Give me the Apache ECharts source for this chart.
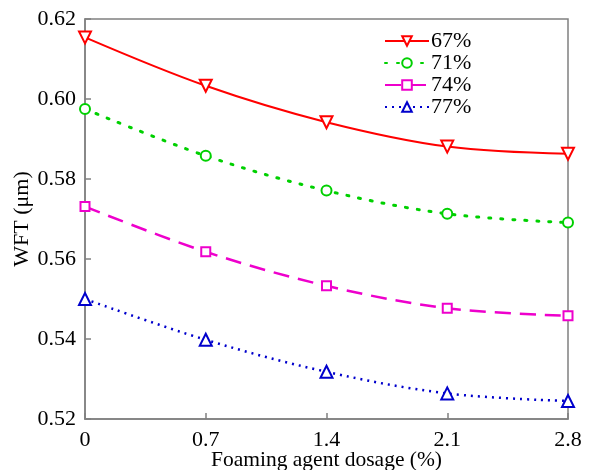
<!DOCTYPE html>
<html>
<head>
<meta charset="utf-8">
<script src="https://cdn.jsdelivr.net/npm/echarts@6/dist/echarts.min.js"></script>
<style>html,body{margin:0;padding:0;background:#fff;}#c{width:595px;height:470px;}</style>
</head>
<body>
<div id="c"></div>
<script>
const dosage = [0, 0.7, 1.4, 2.1, 2.8];
const seriesNames = ['67%', '71%', '74%', '77%'];
const wft67 = [0.6154, 0.6033, 0.5942, 0.5881, 0.5863];
const wft71 = [0.5975, 0.5858, 0.5771, 0.5713, 0.5691];
const wft74 = [0.5731, 0.5618, 0.5533, 0.5477, 0.5458];
const wft77 = [0.5500, 0.5398, 0.5318, 0.5264, 0.5245];
const xTitle = 'Foaming agent dosage (%)';
const yTitle = 'WFT (μm)';

const font = '"Liberation Serif", "Times New Roman", serif';
const pair = arr => dosage.map((x, i) => [x, arr[i]]);

const chart = echarts.init(document.getElementById('c'));
chart.setOption({
  animation: false,
  backgroundColor: '#fff',
  grid: { left: 85, right: 27, top: 19, bottom: 51, outerBoundsMode: 'none', containLabel: false,
          show: true, borderColor: '#808080', borderWidth: 1.5, backgroundColor: 'transparent' },
  legend: {
    left: 379, top: 25, orient: 'vertical', itemGap: 0, itemWidth: 44, itemHeight: 12,
    textStyle: { fontFamily: font, fontSize: 22, color: '#000', lineHeight: 20, padding: [0, 0, 0, -3] },
    data: seriesNames
  },
  xAxis: {
    type: 'value', min: 0, max: 2.8, interval: 0.7,
    name: xTitle, nameLocation: 'middle', nameGap: 30, nameMoveOverlap: false,
    nameTextStyle: { fontFamily: font, fontSize: 21.5, color: '#000' },
    axisLine: { lineStyle: { color: '#808080', width: 1.5 } },
    axisTick: { inside: true, length: 6, lineStyle: { color: '#808080', width: 1.5 } },
    axisLabel: { fontFamily: font, fontSize: 22, color: '#000', margin: 10, formatter: v => String(+v.toFixed(1)) },
    splitLine: { show: false }
  },
  yAxis: {
    type: 'value', min: 0.52, max: 0.62, interval: 0.02,
    name: yTitle, nameLocation: 'middle', nameGap: 52, nameMoveOverlap: false,
    nameTextStyle: { fontFamily: font, fontSize: 22, color: '#000' },
    axisLine: { show: true, lineStyle: { color: '#808080', width: 1.5 } },
    axisTick: { show: true, inside: true, length: 6, lineStyle: { color: '#808080', width: 1.5 } },
    axisLabel: { fontFamily: font, fontSize: 22, color: '#000', margin: 9, formatter: v => v.toFixed(2) },
    splitLine: { show: false }
  },
  series: [
    { name: seriesNames[0], type: 'line', smooth: 0.35, data: pair(wft67),
      symbol: 'emptyTriangle', symbolRotate: 180, symbolSize: 12,
      itemStyle: { color: '#ff0000', borderWidth: 2 },
      lineStyle: { color: '#ff0000', width: 2 } },
    { name: seriesNames[1], type: 'line', smooth: 0.35, data: pair(wft71),
      symbol: 'emptyCircle', symbolSize: 10,
      itemStyle: { color: '#00d000', borderWidth: 2.5 },
      lineStyle: { color: '#00d000', width: 3, type: [2, 10], cap: 'round' } },
    { name: seriesNames[2], type: 'line', smooth: 0.35, data: pair(wft74),
      symbol: 'emptyRect', symbolSize: 9,
      itemStyle: { color: '#ee00cc', borderWidth: 2 },
      lineStyle: { color: '#ee00cc', width: 2.5, type: [16, 9] } },
    { name: seriesNames[3], type: 'line', smooth: 0.35, data: pair(wft77),
      symbol: 'emptyTriangle', symbolSize: 12,
      itemStyle: { color: '#0000cc', borderWidth: 2.5 },
      lineStyle: { color: '#0000cc', width: 2.5, type: [2, 5] } }
  ]
});
</script>
</body>
</html>
